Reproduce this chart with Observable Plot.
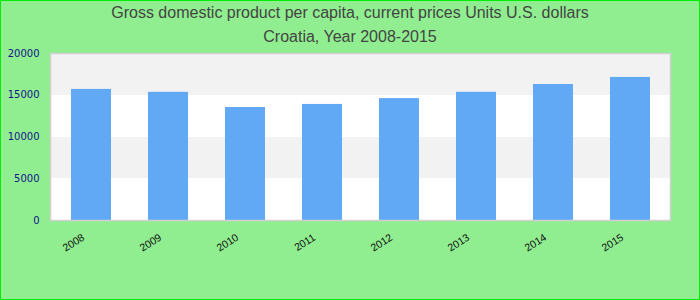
<!DOCTYPE html>
<html>
<head>
<meta charset="utf-8">
<script src="https://cdn.jsdelivr.net/npm/d3@7"></script>
<script src="https://cdn.jsdelivr.net/npm/@observablehq/plot@0.6"></script>
<style>
  html, body { margin: 0; padding: 0; background: #90ee90; }
  #wrap { width: 700px; height: 300px; box-sizing: border-box; border: 1px solid #00ee00; background: #90ee90; overflow: hidden; }
  .title { font-family: "Liberation Sans", Arial, sans-serif; font-size: 16px; line-height: 24px; color: #444; text-align: center; margin: 0; }
  svg { display: block; }
</style>
</head>
<body>
<div id="wrap">
  <div class="title">Gross domestic product per capita, current prices Units U.S. dollars</div>
  <div class="title">Croatia, Year 2008-2015</div>
  <div id="chart"></div>
</div>
<script>
const years = ["2008", "2009", "2010", "2011", "2012", "2013", "2014", "2015"];
const gdp = [15700, 15350, 13530, 13900, 14600, 15350, 16290, 17130];
const yTicks = [0, 5000, 10000, 15000, 20000];
const bandStarts = [0, 5000, 10000, 15000];
const bandEnds = [5000, 10000, 15000, 20000];
const bandFills = ["#ffffff", "#f2f2f2", "#ffffff", "#f2f2f2"];

const data = years.map((y, i) => ({year: y, value: gdp[i]}));
const bands = bandStarts.map((s, i) => ({y1: s, y2: bandEnds[i], fill: bandFills[i]}));

const chart = Plot.plot({
  width: 698,
  height: 250,
  marginTop: 4,
  marginLeft: 49,
  marginRight: 29,
  marginBottom: 79,
  style: {background: "transparent", fontFamily: "'Liberation Sans', Arial, sans-serif"},
  x: {domain: years, paddingInner: 0.484, paddingOuter: 0.24, label: null},
  y: {domain: [0, 20000], label: null},
  marks: [
    Plot.frame({fill: "#ffffff"}),
    Plot.rect(bands, {y1: "y1", y2: "y2", fill: d => d.fill, shapeRendering: "crispEdges"}),
    Plot.barY(data, {x: "year", y: "value", fill: "#61a9f5"}),
    Plot.frame({stroke: "#d0d0d0", strokeWidth: 1.5}),
    Plot.axisY(yTicks, {tickSize: 0, tickPadding: 11, tickFormat: d => String(d), fill: "#14148c", fontSize: 10, fontFamily: "'DejaVu Sans', sans-serif", label: null}),
    Plot.axisX({tickSize: 0, tickPadding: 16, dx: -8, tickRotate: -32, fill: "#111", fontSize: 10.5, label: null})
  ]
});
document.getElementById("chart").appendChild(chart);
</script>
</body>
</html>
